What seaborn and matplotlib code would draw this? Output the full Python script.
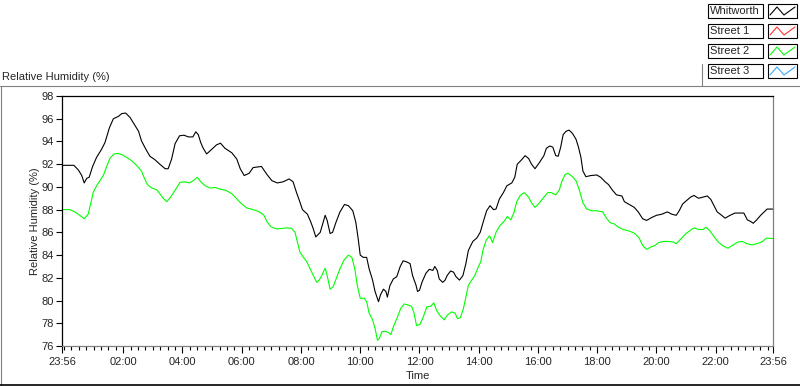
import matplotlib
matplotlib.use("Agg")
import matplotlib.pyplot as plt
from matplotlib.patches import Rectangle
from matplotlib.lines import Line2D
from matplotlib.ticker import FixedLocator
import pandas as pd
import seaborn as sns

# minutes after 23:56 and relative humidity (%)
whit_t = [0, 24, 33, 40, 45, 50, 55, 62, 70, 80, 87, 96, 104, 114, 121, 129, 138, 148, 155, 161,
          170, 178, 188, 198, 209, 215, 222, 229, 238, 247, 256, 265, 271, 276, 281, 286, 293, 303,
          313, 321, 330, 344, 354, 361, 369, 379, 387, 404, 415, 425, 436, 448, 460, 468, 475, 482,
          487, 497, 504, 509, 514, 523, 528, 533, 537, 543, 548, 555, 563, 572, 580, 589, 595, 600,
          604, 610, 617, 622, 629, 634, 641, 645, 651, 656, 659, 664, 671, 678, 685, 691, 698, 705,
          710, 717, 720, 724, 729, 737, 744, 751, 755, 760, 764, 771, 776, 780, 787, 793, 798, 805,
          812, 818, 823, 832, 840, 847, 853, 860, 867, 874, 879, 886, 894, 901, 911, 917, 922, 929,
          938, 945, 951, 958, 967, 976, 981, 988, 994, 1000, 1005, 1010, 1015, 1021, 1027, 1034,
          1041, 1046, 1051, 1055, 1061, 1071, 1083, 1091, 1100, 1107, 1115, 1123, 1134, 1139, 1147,
          1159, 1167, 1176, 1184, 1194, 1204, 1215, 1226, 1235, 1244, 1250, 1257, 1265, 1273, 1280,
          1289, 1298, 1307, 1314, 1320, 1327, 1336, 1343, 1353, 1363, 1373, 1381, 1388, 1395, 1400,
          1407, 1415, 1422, 1428, 1440]
whit_rh = [91.9, 91.9, 91.5, 91.0, 90.35, 90.75, 90.85, 91.8, 92.6, 93.3, 93.9, 95.2, 96.0, 96.2,
           96.45, 96.5, 96.1, 95.4, 94.9, 94.05, 93.3, 92.7, 92.4, 92.0, 91.6, 91.6, 92.45, 93.8,
           94.5, 94.55, 94.4, 94.4, 94.85, 94.6, 93.9, 93.4, 92.9, 93.3, 93.7, 93.85, 93.4, 93.0,
           92.45, 91.6, 91.0, 91.2, 91.7, 91.8, 91.1, 90.55, 90.35, 90.45, 90.7, 90.45, 89.5, 88.65,
           88.0, 87.6, 86.9, 86.3, 85.6, 86.0, 86.75, 87.5, 87.05, 85.9, 86.0, 86.9, 87.8, 88.45,
           88.35, 87.9, 86.9, 85.4, 84.0, 83.8, 83.8, 82.8, 81.8, 80.8, 79.9, 80.5, 81.0, 80.8,
           80.3, 81.3, 81.9, 82.1, 83.0, 83.5, 83.4, 83.25, 82.2, 81.35, 80.8, 80.9, 81.6, 82.4,
           82.75, 82.65, 83.0, 82.65, 81.9, 81.6, 81.8, 82.2, 82.6, 82.5, 82.1, 81.8, 82.2, 83.25,
           84.4, 85.2, 85.5, 86.0, 86.9, 87.9, 88.35, 88.0, 88.05, 88.95, 89.5, 90.1, 90.35, 90.85,
           92.0, 92.3, 92.75, 92.5, 92.0, 91.6, 92.15, 92.75, 93.4, 93.6, 93.5, 92.75, 92.7, 93.5,
           94.6, 94.9, 95.0, 94.7, 94.2, 93.5, 92.6, 91.4, 90.9, 91.0, 91.05, 90.85, 90.45, 90.2,
           89.7, 89.3, 89.2, 88.7, 88.5, 88.2, 87.8, 87.2, 87.05, 87.3, 87.5, 87.6, 87.8, 87.6,
           87.5, 87.9, 88.5, 88.8, 89.1, 89.25, 89.0, 89.1, 89.2, 88.9, 88.4, 87.8, 87.5, 87.25,
           87.5, 87.7, 87.7, 87.7, 87.1, 86.95, 86.8, 87.1, 87.5, 87.8, 88.05, 88.05]

st2_t = [0, 16, 26, 36, 45, 53, 58, 63, 70, 77, 84, 91, 97, 105, 114, 123, 131, 141, 151, 161, 166,
         173, 182, 192, 198, 205, 212, 220, 229, 239, 249, 258, 266, 274, 281, 290, 300, 310, 321,
         332, 344, 354, 364, 374, 387, 400, 409, 415, 423, 435, 447, 456, 465, 472, 477, 482, 489,
         496, 502, 509, 516, 521, 526, 533, 537, 543, 549, 556, 563, 571, 580, 587, 593, 598, 604,
         612, 617, 622, 629, 634, 639, 643, 648, 654, 661, 666, 672, 679, 686, 693, 701, 708, 713,
         718, 725, 732, 739, 747, 753, 759, 766, 774, 780, 789, 796, 801, 807, 813, 818, 823, 830,
         836, 843, 848, 853, 859, 866, 872, 879, 887, 895, 902, 909, 915, 921, 928, 936, 945, 951,
         958, 967, 976, 984, 991, 1000, 1007, 1012, 1019, 1025, 1034, 1041, 1048, 1055, 1063, 1073,
         1083, 1095, 1102, 1110, 1118, 1127, 1137, 1150, 1160, 1169, 1176, 1184, 1192, 1201, 1208,
         1218, 1228, 1238, 1244, 1255, 1264, 1272, 1280, 1289, 1298, 1304, 1312, 1320, 1329, 1339,
         1349, 1359, 1369, 1378, 1387, 1397, 1407, 1417, 1427, 1440]
st2_rh = [88.0, 88.0, 87.8, 87.5, 87.2, 87.6, 88.5, 89.5, 90.1, 90.55, 91.05, 91.85, 92.5, 92.9,
          92.95, 92.8, 92.6, 92.3, 91.9, 91.4, 90.85, 90.2, 89.9, 89.75, 89.4, 89.0, 88.7, 89.1,
          89.7, 90.4, 90.45, 90.35, 90.55, 90.85, 90.45, 90.1, 89.9, 89.95, 89.8, 89.7, 89.4, 88.95,
          88.5, 88.15, 88.0, 87.8, 87.5, 86.95, 86.5, 86.3, 86.35, 86.4, 86.35, 86.0, 85.1, 84.25,
          83.8, 83.4, 82.85, 82.2, 81.6, 81.8, 82.2, 82.85, 82.2, 81.0, 81.2, 82.0, 82.8, 83.55,
          84.0, 83.8, 82.8, 81.35, 80.2, 80.2, 79.9, 78.9, 78.3, 77.55, 76.5, 76.7, 77.25, 77.3,
          77.2, 77.0, 77.8, 78.5, 79.3, 79.7, 79.6, 79.5, 78.9, 77.8, 77.9, 78.6, 79.45, 79.5, 79.8,
          79.1, 78.65, 78.3, 78.7, 79.0, 78.9, 78.4, 78.5, 79.3, 80.3, 81.35, 81.8, 82.2, 82.95,
          83.4, 84.5, 85.3, 85.7, 85.1, 86.0, 86.6, 86.95, 87.4, 87.1, 87.7, 88.7, 89.25, 89.5,
          89.1, 88.6, 88.2, 88.6, 89.1, 89.5, 89.5, 89.3, 89.7, 90.45, 91.1, 91.2, 90.9, 90.55,
          89.7, 88.6, 88.05, 87.9, 87.9, 87.8, 87.3, 86.85, 86.75, 86.45, 86.25, 86.1, 85.9, 85.5,
          84.85, 84.5, 84.7, 84.85, 85.1, 85.2, 85.2, 85.15, 85.0, 85.5, 85.9, 86.15, 86.4, 86.25,
          86.25, 86.45, 86.15, 85.65, 85.15, 84.8, 84.6, 84.9, 85.15, 85.2, 85.0, 84.9, 85.0, 85.15,
          85.5, 85.45]

legend_names = ["Whitworth", "Street 1", "Street 2", "Street 3"]
legend_colors = ["#000000", "#ff3030", "#00ff00", "#33aaff"]

x_ticks = [0, 124, 244, 364, 484, 604, 724, 844, 964, 1084, 1204, 1324, 1440]
x_labels = ["23:56", "02:00", "04:00", "06:00", "08:00", "10:00", "12:00", "14:00",
            "16:00", "18:00", "20:00", "22:00", "23:56"]
y_ticks = list(range(76, 99, 2))

df = pd.concat([
    pd.DataFrame({"t": whit_t, "rh": whit_rh, "site": "Whitworth"}),
    pd.DataFrame({"t": st2_t, "rh": st2_rh, "site": "Street 2"}),
])

sns.set_style("white")
plt.rcParams["font.family"] = ["Liberation Sans", "DejaVu Sans"]
plt.rcParams["font.size"] = 8

W, H = 800, 386
fig = plt.figure(figsize=(W / 100, H / 100), dpi=100)
ax = fig.add_axes([62 / W, 1 - 346 / H, 711 / W, 250 / H])

sns.lineplot(data=df, x="t", y="rh", hue="site",
             palette={"Whitworth": "#000000", "Street 2": "#00ff00"},
             linewidth=0.8, legend=False, ax=ax, estimator=None, sort=False)

ax.set_xlim(0, 1440)
ax.set_ylim(76, 98)
ax.set_yticks(y_ticks)
ax.set_yticklabels([str(v) for v in y_ticks])
ax.xaxis.set_major_locator(FixedLocator(x_ticks))
ax.set_xticklabels(x_labels)
ax.xaxis.set_minor_locator(FixedLocator([4 + 15 * k for k in range(96)]))
ax.tick_params(axis="x", which="major", direction="out", length=5, width=0.8, pad=3,
               color="black", bottom=True, labelsize=8)
ax.tick_params(axis="x", which="minor", direction="out", length=3, width=0.8,
               color="black", bottom=True)
ax.tick_params(axis="y", which="major", direction="out", length=4, width=0.8, pad=2,
               color="black", left=True, labelsize=8)

for side, col in [("left", "black"), ("top", "black"), ("right", "#808080"), ("bottom", "#808080")]:
    ax.spines[side].set_visible(True)
    ax.spines[side].set_color(col)
    ax.spines[side].set_linewidth(0.9)

ax.set_xlabel("Time", fontsize=8)
ax.xaxis.set_label_coords(0.5, -0.1)
ax.set_ylabel("Relative Humidity (%)", fontsize=8)
ax.yaxis.set_label_coords(-0.031, 0.5)

fig.text(2 / W, 1 - 77 / H, "Relative Humidity (%)", ha="left", va="center", fontsize=8)


def fx(x):
    return x / W


def fy(y):
    return 1 - y / H


# outer panel frame
fig.add_artist(Line2D([fx(0), fx(800)], [fy(86), fy(86)], color="#808080", lw=0.8,
                      transform=fig.transFigure))
fig.add_artist(Line2D([fx(1), fx(1)], [fy(86), fy(385)], color="#808080", lw=0.8,
                      transform=fig.transFigure))
fig.add_artist(Line2D([fx(0), fx(800)], [fy(385), fy(385)], color="black", lw=1.2,
                      transform=fig.transFigure))
fig.add_artist(Line2D([fx(702), fx(702)], [fy(64), fy(86)], color="#808080", lw=0.8,
                      transform=fig.transFigure))

# legend boxes
for i, (name, col) in enumerate(zip(legend_names, legend_colors)):
    top = 4 + 20 * i
    fig.add_artist(Rectangle((fx(708), fy(top + 14)), 55 / W, 14 / H, fill=True, fc="white",
                             ec="black", lw=0.8, transform=fig.transFigure))
    fig.text(fx(710), fy(top + 7.5), name, ha="left", va="center", fontsize=8)
    fig.add_artist(Rectangle((fx(768), fy(top + 14)), 29 / W, 14 / H, fill=True, fc="white",
                             ec="black", lw=0.8, transform=fig.transFigure))
    xs = [fx(770), fx(777), fx(784), fx(795)]
    ys = [fy(top + 11), fy(top + 3), fy(top + 11), fy(top + 3)]
    fig.add_artist(Line2D(xs, ys, color=col, lw=0.8, transform=fig.transFigure))

fig.savefig("out.png", dpi=100)
